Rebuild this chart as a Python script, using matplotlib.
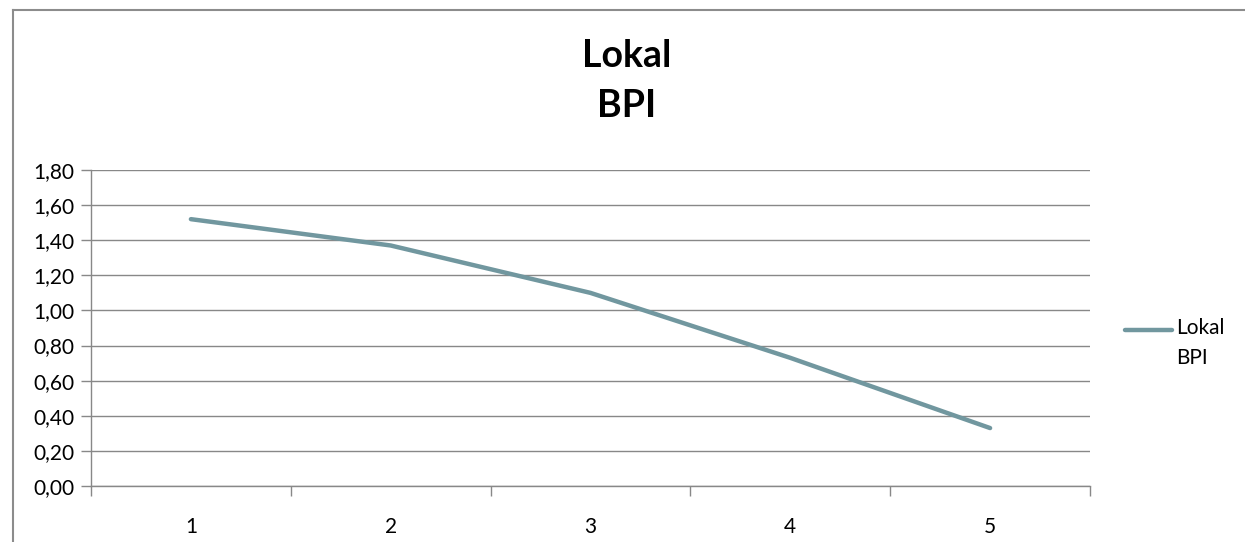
import numpy as np
import matplotlib
matplotlib.use("Agg")
import matplotlib.pyplot as plt
from matplotlib.ticker import FixedLocator, FuncFormatter

# ---- data -------------------------------------------------------------------
categories = [1, 2, 3, 4, 5]
values     = [1.52, 1.37, 1.10, 0.73, 0.33]
series     = "Lokal\nBPI"
yticks     = [0.0, 0.2, 0.4, 0.6, 0.8, 1.0, 1.2, 1.4, 1.6, 1.8]

LINE_COL = "#71979f"
GRID_COL = "#888888"
W, H = 1245, 542

plt.rcParams.update({"font.family": ["Lato", "DejaVu Sans"], "font.size": 15})

fig = plt.figure(figsize=(W / 100, H / 100), dpi=100)
ax = fig.add_axes([91 / W, 1 - 486 / H, (1090 - 91) / W, (486 - 170) / H])

x = np.arange(len(categories)) + 1
ax.plot(x, values, color=LINE_COL, lw=3.2, solid_capstyle="round", label=series)

ax.set_xlim(0.5, len(categories) + 0.5)
ax.set_ylim(0, 1.8)
ax.set_yticks(yticks)
ax.yaxis.set_major_formatter(FuncFormatter(lambda v, _: f"{v:.2f}".replace(".", ",")))
ax.grid(axis="y", color=GRID_COL, lw=1)
ax.set_axisbelow(True)

# category labels centred, tick marks at boundaries
ax.xaxis.set_major_locator(FixedLocator(np.arange(len(categories) + 1) + 0.5))
ax.xaxis.set_major_formatter(FuncFormatter(lambda v, _: ""))
ax.xaxis.set_minor_locator(FixedLocator(x))
ax.set_xticklabels([str(c) for c in categories], minor=True)
ax.tick_params(axis="x", which="minor", length=0, pad=22)
ax.tick_params(axis="x", which="major", length=7, color=GRID_COL, width=1)
ax.tick_params(axis="y", length=7, color=GRID_COL, width=1, pad=5)

for s in ["top", "right"]:
    ax.spines[s].set_visible(False)
for s in ["left", "bottom"]:
    ax.spines[s].set_color(GRID_COL)
    ax.spines[s].set_linewidth(1)

# title
fig.text(627 / W, 1 - 81 / H, "Lokal\nBPI", ha="center", va="center",
         fontsize=27, fontweight="bold", linespacing=1.55)

# legend (right side): line sample + two-line label
ly = 1 - 330 / H
fig.add_artist(plt.Line2D([1125 / W, 1172 / W], [ly, ly], transform=fig.transFigure,
                          color=LINE_COL, lw=3.2, solid_capstyle="round"))
fig.text(1176 / W, 1 - 318 / H, series, ha="left", va="top", fontsize=15,
         linespacing=1.6)

# chart frame (left + top edges visible)
fig.add_artist(plt.Line2D([13 / W, 13 / W], [0, 1 - 10 / H],
                          transform=fig.transFigure, color="#8c8c8c", lw=1.5))
fig.add_artist(plt.Line2D([13 / W, 1], [1 - 10 / H, 1 - 10 / H],
                          transform=fig.transFigure, color="#8c8c8c", lw=1.5))

fig.savefig("out.png", dpi=100)
